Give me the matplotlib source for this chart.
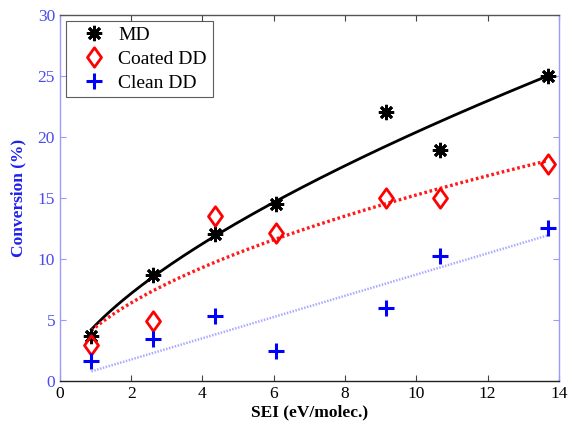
import numpy as np
import matplotlib
matplotlib.use("Agg")
import matplotlib.pyplot as plt
from matplotlib.path import Path

plt.rcParams['font.family'] = ['Liberation Serif', 'DejaVu Serif']
plt.rcParams['mathtext.fontset'] = 'stix'

# Data
sei = [0.88, 2.6, 4.36, 6.07, 9.14, 10.67, 13.7]
md = [3.7, 8.7, 12.0, 14.5, 22.0, 18.9, 25.0]
coated_dd = [2.9, 4.9, 13.5, 12.1, 15.0, 15.0, 17.8]
clean_dd = [1.6, 3.4, 5.3, 2.4, 6.0, 10.2, 12.5]

# Fit curves y = a * x^b (coefficients)
md_fit = (4.56, 0.65)
coated_fit = (4.39, 0.54)
clean_fit = (0.87, 1.0)

x_ticks = [0, 2, 4, 6, 8, 10, 12, 14]
y_ticks = [0, 5, 10, 15, 20, 25, 30]

blue_txt = '#4a4aee'
spine_blue = '#9a9aff'

fig = plt.figure(figsize=(5.69, 4.28), dpi=100)
ax = fig.add_axes([0.1054, 0.1105, 0.8766, 0.8552])

xf = np.linspace(min(sei), max(sei), 200)
ax.plot(xf, md_fit[0] * xf ** md_fit[1], color='black', lw=2.0, zorder=2)
ax.plot(xf, coated_fit[0] * xf ** coated_fit[1], color='#ff1a1a', lw=2.4,
        linestyle=(0, (0.8, 0.8)), zorder=2)
ax.plot(xf, clean_fit[0] * xf ** clean_fit[1], color='#aaaaff', lw=1.8,
        linestyle=(0, (0.6, 0.6)), zorder=2)

diamond = Path([(0, 1), (0.72, 0), (0, -1), (-0.72, 0), (0, 1)],
               [Path.MOVETO, Path.LINETO, Path.LINETO, Path.LINETO, Path.CLOSEPOLY])

ax.plot(sei, md, linestyle='none', marker=(8, 2, 0), ms=11, mew=2.0,
        color='black', label='MD', zorder=3)
ax.plot(sei, coated_dd, linestyle='none', marker=diamond, ms=14, mew=2.0,
        mfc='none', mec='#ff0000', label='Coated DD', zorder=3)
ax.plot(sei, clean_dd, linestyle='none', marker='+', ms=11, mew=2.2,
        color='#0000ff', label='Clean DD', zorder=3)

ax.set_xlim(0, 14)
ax.set_ylim(0, 30)
ax.set_xticks(x_ticks)
ax.set_yticks(y_ticks)
ax.tick_params(direction='in', top=True, right=True, length=4, labelsize=12.5)
ax.tick_params(axis='y', colors=spine_blue, labelcolor=blue_txt)
ax.tick_params(axis='x', colors='#444444', labelcolor='black')
ax.spines['left'].set_color(spine_blue)
ax.spines['right'].set_color(spine_blue)
ax.spines['top'].set_color('#555555')
ax.spines['bottom'].set_color('#222222')
for s in ax.spines.values():
    s.set_linewidth(1.0)

ax.set_xlabel('SEI (eV/molec.)', fontsize=12.5, fontweight='bold', labelpad=2)
ax.set_ylabel('Conversion (%)', fontsize=12.5, fontweight='bold', color='#2020ee', labelpad=8)

leg = ax.legend(loc='upper left', fontsize=14, frameon=True, fancybox=False,
                edgecolor='#333333', borderaxespad=0.3, handletextpad=0.1,
                labelspacing=0.32, borderpad=0.3, handlelength=2.3)
leg.get_frame().set_linewidth(0.8)

fig.savefig('out.png', dpi=100)
